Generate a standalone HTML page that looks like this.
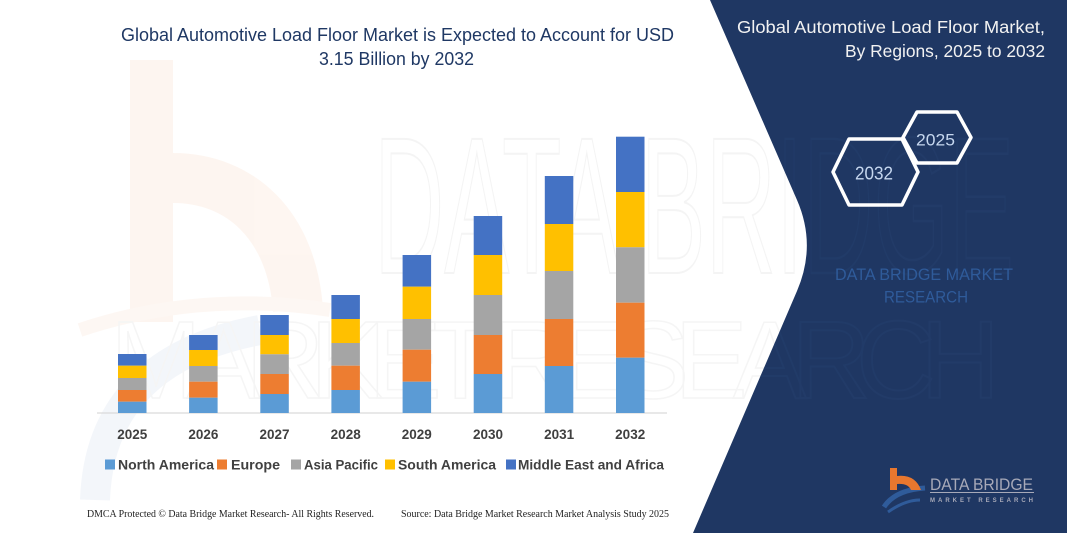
<!DOCTYPE html>
<html>
<head>
<meta charset="utf-8">
<style>
  html,body{margin:0;padding:0;background:#fff;}
  body{width:1067px;height:533px;overflow:hidden;}
  svg{display:block;}
</style>
</head>
<body>
<svg width="1067" height="533" viewBox="0 0 1067 533" xmlns="http://www.w3.org/2000/svg">
  <rect x="0" y="0" width="1067" height="533" fill="#ffffff"/>

  <!-- faint watermark b logo -->
  <g opacity="0.45">
    <rect x="130" y="60" width="43" height="262" fill="#fcebe0"/>
    <path d="M 173 178 C 240 178, 292 225, 298 310" fill="none" stroke="#fcebe0" stroke-width="50"/>
    <path d="M 80 330 Q 200 290 330 310" fill="none" stroke="#fcefe6" stroke-width="14"/>
    <path d="M 95 500 Q 100 360 260 330" fill="none" stroke="#e6ecf5" stroke-width="30"/>
  </g>
  <!-- faint watermark text -->
  <text x="374" y="273" font-family="Liberation Sans, sans-serif" font-size="195" fill="none" stroke="#f4f4f4" stroke-width="2" textLength="640" lengthAdjust="spacingAndGlyphs">DATA BRIDGE</text>
  <text x="110" y="398" font-family="Liberation Sans, sans-serif" font-size="110" fill="none" stroke="#f5f5f5" stroke-width="1.5" textLength="890" lengthAdjust="spacing">MARKET RESEARCH</text>

  <!-- Title -->
  <text x="121" y="41" font-family="Liberation Sans, sans-serif" font-size="18.5" fill="#1f3864" textLength="553" lengthAdjust="spacingAndGlyphs">Global Automotive Load Floor Market is Expected to Account for USD</text>
  <text x="319" y="65" font-family="Liberation Sans, sans-serif" font-size="18.5" fill="#1f3864" textLength="155" lengthAdjust="spacingAndGlyphs">3.15 Billion by 2032</text>

  <!-- axis line -->
  <line x1="97" y1="413" x2="667" y2="413" stroke="#d9d9d9" stroke-width="1.3"/>

  <!-- bars -->
  <g>
    <!-- 2025 -->
    <rect x="118" y="354" width="28.5" height="11.7" fill="#4472c4"/>
    <rect x="118" y="365.7" width="28.5" height="12.3" fill="#ffc000"/>
    <rect x="118" y="378" width="28.5" height="12" fill="#a5a5a5"/>
    <rect x="118" y="390" width="28.5" height="11.7" fill="#ed7d31"/>
    <rect x="118" y="401.7" width="28.5" height="11.3" fill="#5b9bd5"/>
    <!-- 2026 -->
    <rect x="189.1" y="335" width="28.5" height="15" fill="#4472c4"/>
    <rect x="189.1" y="350" width="28.5" height="16" fill="#ffc000"/>
    <rect x="189.1" y="366" width="28.5" height="15.7" fill="#a5a5a5"/>
    <rect x="189.1" y="381.7" width="28.5" height="16" fill="#ed7d31"/>
    <rect x="189.1" y="397.7" width="28.5" height="15.3" fill="#5b9bd5"/>
    <!-- 2027 -->
    <rect x="260.3" y="315" width="28.5" height="20" fill="#4472c4"/>
    <rect x="260.3" y="335" width="28.5" height="19.3" fill="#ffc000"/>
    <rect x="260.3" y="354.3" width="28.5" height="19.7" fill="#a5a5a5"/>
    <rect x="260.3" y="374" width="28.5" height="20" fill="#ed7d31"/>
    <rect x="260.3" y="394" width="28.5" height="19" fill="#5b9bd5"/>
    <!-- 2028 -->
    <rect x="331.4" y="295" width="28.5" height="24" fill="#4472c4"/>
    <rect x="331.4" y="319" width="28.5" height="24" fill="#ffc000"/>
    <rect x="331.4" y="343" width="28.5" height="22.7" fill="#a5a5a5"/>
    <rect x="331.4" y="365.7" width="28.5" height="24.3" fill="#ed7d31"/>
    <rect x="331.4" y="390" width="28.5" height="23" fill="#5b9bd5"/>
    <!-- 2029 -->
    <rect x="402.6" y="255" width="28.5" height="31.7" fill="#4472c4"/>
    <rect x="402.6" y="286.7" width="28.5" height="32.3" fill="#ffc000"/>
    <rect x="402.6" y="319" width="28.5" height="30.7" fill="#a5a5a5"/>
    <rect x="402.6" y="349.7" width="28.5" height="32" fill="#ed7d31"/>
    <rect x="402.6" y="381.7" width="28.5" height="31.3" fill="#5b9bd5"/>
    <!-- 2030 -->
    <rect x="473.7" y="216" width="28.5" height="39" fill="#4472c4"/>
    <rect x="473.7" y="255" width="28.5" height="40" fill="#ffc000"/>
    <rect x="473.7" y="295" width="28.5" height="40" fill="#a5a5a5"/>
    <rect x="473.7" y="335" width="28.5" height="39" fill="#ed7d31"/>
    <rect x="473.7" y="374" width="28.5" height="39" fill="#5b9bd5"/>
    <!-- 2031 -->
    <rect x="544.8" y="176" width="28.5" height="48" fill="#4472c4"/>
    <rect x="544.8" y="224" width="28.5" height="47" fill="#ffc000"/>
    <rect x="544.8" y="271" width="28.5" height="48" fill="#a5a5a5"/>
    <rect x="544.8" y="319" width="28.5" height="47" fill="#ed7d31"/>
    <rect x="544.8" y="366" width="28.5" height="47" fill="#5b9bd5"/>
    <!-- 2032 -->
    <rect x="616" y="136.7" width="28.5" height="55.3" fill="#4472c4"/>
    <rect x="616" y="192" width="28.5" height="55.3" fill="#ffc000"/>
    <rect x="616" y="247.3" width="28.5" height="55.4" fill="#a5a5a5"/>
    <rect x="616" y="302.7" width="28.5" height="55" fill="#ed7d31"/>
    <rect x="616" y="357.7" width="28.5" height="55.3" fill="#5b9bd5"/>
  </g>

  <!-- x labels -->
  <g font-family="Liberation Sans, sans-serif" font-size="13.5" font-weight="bold" fill="#404040" text-anchor="middle">
    <text x="132.3" y="439">2025</text>
    <text x="203.4" y="439">2026</text>
    <text x="274.5" y="439">2027</text>
    <text x="345.7" y="439">2028</text>
    <text x="416.8" y="439">2029</text>
    <text x="488" y="439">2030</text>
    <text x="559.1" y="439">2031</text>
    <text x="630.2" y="439">2032</text>
  </g>

  <!-- legend -->
  <g font-family="Liberation Sans, sans-serif" font-size="13.5" font-weight="bold" fill="#404040">
    <rect x="105" y="459.5" width="10" height="10" fill="#5b9bd5"/>
    <text x="118" y="469.5" textLength="96" lengthAdjust="spacingAndGlyphs">North America</text>
    <rect x="217" y="459.5" width="10" height="10" fill="#ed7d31"/>
    <text x="231" y="469.5" textLength="49" lengthAdjust="spacingAndGlyphs">Europe</text>
    <rect x="291" y="459.5" width="10" height="10" fill="#a5a5a5"/>
    <text x="304" y="469.5" textLength="74" lengthAdjust="spacingAndGlyphs">Asia Pacific</text>
    <rect x="385" y="459.5" width="10" height="10" fill="#ffc000"/>
    <text x="398" y="469.5" textLength="98" lengthAdjust="spacingAndGlyphs">South America</text>
    <rect x="506" y="459.5" width="10" height="10" fill="#4472c4"/>
    <text x="518" y="469.5" textLength="146" lengthAdjust="spacingAndGlyphs">Middle East and Africa</text>
  </g>

  <!-- footer -->
  <g font-family="Liberation Serif, serif" font-size="10" fill="#222">
    <text x="87" y="517" textLength="287" lengthAdjust="spacingAndGlyphs">DMCA Protected © Data Bridge Market Research- All Rights Reserved.</text>
    <text x="401" y="517" textLength="268" lengthAdjust="spacingAndGlyphs">Source: Data Bridge Market Research Market Analysis Study 2025</text>
  </g>

  <!-- navy panel -->
  <path d="M 710 0 L 1067 0 L 1067 533 L 693 533 L 797 291 Q 816.7 245.3 797 200 Z" fill="#1f3763"/>
  <clipPath id="pc"><path d="M 710 0 L 1067 0 L 1067 533 L 693 533 L 797 291 Q 816.7 245.3 797 200 Z"/></clipPath>
  <g clip-path="url(#pc)" opacity="0.3">
    <text x="374" y="273" font-family="Liberation Sans, sans-serif" font-size="195" fill="none" stroke="#2a4574" stroke-width="2.5" textLength="640" lengthAdjust="spacingAndGlyphs">DATA BRIDGE</text>
    <text x="110" y="398" font-family="Liberation Sans, sans-serif" font-size="110" fill="none" stroke="#2a4574" stroke-width="2" textLength="890" lengthAdjust="spacing">MARKET RESEARCH</text>
  </g>

  <!-- panel heading -->
  <g font-family="Liberation Sans, sans-serif" font-size="17.5" fill="#f2f2f2">
    <text x="737" y="33" textLength="308" lengthAdjust="spacingAndGlyphs">Global Automotive Load Floor Market,</text>
    <text x="845" y="57" textLength="200" lengthAdjust="spacingAndGlyphs">By Regions, 2025 to 2032</text>
  </g>

  <!-- hexagons -->
  <polygon points="833,172 849,139 902,139 918,172 902,205 849,205" fill="none" stroke="#ffffff" stroke-width="3.5" stroke-linejoin="round"/>
  <polygon points="903,137.5 917,112 957,112 971,137.5 957,163 917,163" fill="none" stroke="#ffffff" stroke-width="3.5" stroke-linejoin="round"/>
  <text x="916" y="145.7" font-family="Liberation Sans, sans-serif" font-size="17" fill="#c6d7ef" textLength="39" lengthAdjust="spacingAndGlyphs">2025</text>
  <text x="855" y="179.3" font-family="Liberation Sans, sans-serif" font-size="18" fill="#c6d7ef" textLength="38" lengthAdjust="spacingAndGlyphs">2032</text>

  <!-- DATA BRIDGE MARKET RESEARCH -->
  <g font-family="Liberation Sans, sans-serif" font-size="16.5" fill="#2f5b9a">
    <text x="835" y="280" textLength="178" lengthAdjust="spacingAndGlyphs">DATA BRIDGE MARKET</text>
    <text x="884" y="302.7" textLength="84" lengthAdjust="spacingAndGlyphs">RESEARCH</text>
  </g>

  <!-- bottom logo -->
  <g>
    <path d="M 884 507 Q 895 490 925 488" fill="none" stroke="#2f5b9a" stroke-width="5"/>
    <path d="M 888 512 Q 905 500 920 500" fill="none" stroke="#2f5b9a" stroke-width="3"/>
    <rect x="890" y="468" width="7" height="22" fill="#e8772e"/>
    <path d="M 897 476 Q 915 474 921 490 L 911 490 Q 908 483 897 484 Z" fill="#e8772e"/>
    <text x="930" y="490" font-family="Liberation Sans, sans-serif" font-size="17" fill="#a7a9b8" textLength="103" lengthAdjust="spacingAndGlyphs">DATA BRIDGE</text>
    <line x1="930" y1="492.5" x2="1034" y2="492.5" stroke="#a7a9b8" stroke-width="1"/>
    <text x="930" y="502" font-family="Liberation Sans, sans-serif" font-size="6" font-weight="bold" fill="#a7a9b8" textLength="103" lengthAdjust="spacing">MARKET RESEARCH</text>
  </g>
</svg>
</body>
</html>
